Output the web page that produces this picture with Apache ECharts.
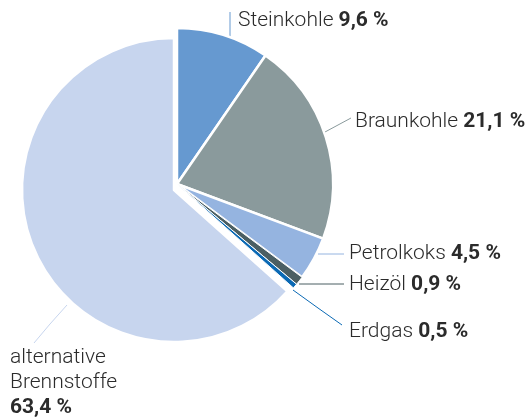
<!DOCTYPE html>
<html>
<head>
<meta charset="utf-8">
<script src="https://cdn.jsdelivr.net/npm/echarts@6/dist/echarts.min.js"></script>
<style>
  html, body { margin: 0; padding: 0; background: #fff; }
  #chart { width: 530px; height: 420px; }
</style>
</head>
<body>
<div id="chart"></div>
<script>
  // Anteile der Brennstoffe in %
  var names = ['Steinkohle', 'Braunkohle', 'Petrolkoks', 'Heizöl', 'Erdgas', 'alternative\nBrennstoffe'];
  var values = [9.6, 21.1, 4.5, 0.9, 0.5, 63.4];
  var colors = ['#6699d0', '#8a9a9c', '#95b4e0', '#4b5f63', '#0a69b4', '#c7d5ee'];
  // white gap between slices (thin ones get a thinner gap)
  var borders = [2.5, 2.5, 2.5, 1, 1, 2.5];

  // label placement: text anchor + leader line
  var labelAt = [
    { x: 238, y: 21, line: [[230, 37], [230, 25], [230, 12]] },
    { x: 355, y: 122, line: [[325, 132], [338, 125], [351, 118]] },
    { x: 349, y: 254, line: [[318, 254], [330, 254], [344, 254]] },
    { x: 349, y: 285, line: [[299, 284], [320, 284], [344, 284]] },
    { x: 349, y: 332, line: [[293, 290], [318, 308], [342, 325]] },
    { x: 10, y: 345, line: [[67, 305], [50, 324], [34, 343]] }
  ];

  var chartDom = document.getElementById('chart');
  var myChart = echarts.init(chartDom);

  function fmt(v) {
    return v.toFixed(1).replace('.', ',') + ' %';
  }

  function buildData(visibleIdx) {
    var data = [];
    for (var i = 0; i < values.length; i++) {
      var show = visibleIdx.indexOf(i) >= 0;
      data.push({
        name: names[i],
        value: values[i],
        itemStyle: show ? { color: colors[i], borderWidth: borders[i] } : { color: 'rgba(0,0,0,0)', borderWidth: 0 },
        label: { show: show },
        labelLine: { show: show }
      });
    }
    return data;
  }

  function placeLabel(params) {
    var p = labelAt[params.dataIndex];
    var multi = names[params.dataIndex].indexOf('\n') >= 0;
    return {
      x: p.x, y: p.y, align: 'left', verticalAlign: multi ? 'top' : 'middle',
      labelLinePoints: p.line
    };
  }

  var labelStyle = {
    formatter: function (p) {
      var n = p.name;
      if (n.indexOf('\n') >= 0) {
        return n.split('\n').map(function (s) { return '{n|' + s + '}'; }).join('\n') + '\n{v|' + fmt(p.value) + '}';
      }
      return '{n|' + n + ' }{v|' + fmt(p.value) + '}';
    },
    rich: {
      n: { fontFamily: 'Roboto', fontWeight: 300, fontSize: 21, color: '#2b2b2b', lineHeight: 25 },
      v: { fontFamily: 'Roboto', fontWeight: 'bold', fontSize: 21, color: '#2b2b2b', lineHeight: 25 }
    }
  };

  var option = {
    animation: false,
    series: [
      {
        type: 'pie',
        center: [177, 184],
        radius: [0, 156],
        startAngle: 90,
        clockwise: true,
        avoidLabelOverlap: false,
        silent: true,
        itemStyle: { borderColor: '#fff', borderWidth: 2.5 },
        label: labelStyle,
        labelLine: { lineStyle: { width: 1 } },
        labelLayout: placeLabel,
        data: buildData([0, 1, 2, 3, 4])
      },
      {
        type: 'pie',
        center: [174, 190],
        radius: [0, 152],
        startAngle: 90,
        clockwise: true,
        avoidLabelOverlap: false,
        silent: true,
        itemStyle: { borderColor: '#fff', borderWidth: 2.5 },
        label: labelStyle,
        labelLine: { lineStyle: { width: 1 } },
        labelLayout: placeLabel,
        data: buildData([5])
      }
    ]
  };

  option && myChart.setOption(option);
</script>
</body>
</html>
